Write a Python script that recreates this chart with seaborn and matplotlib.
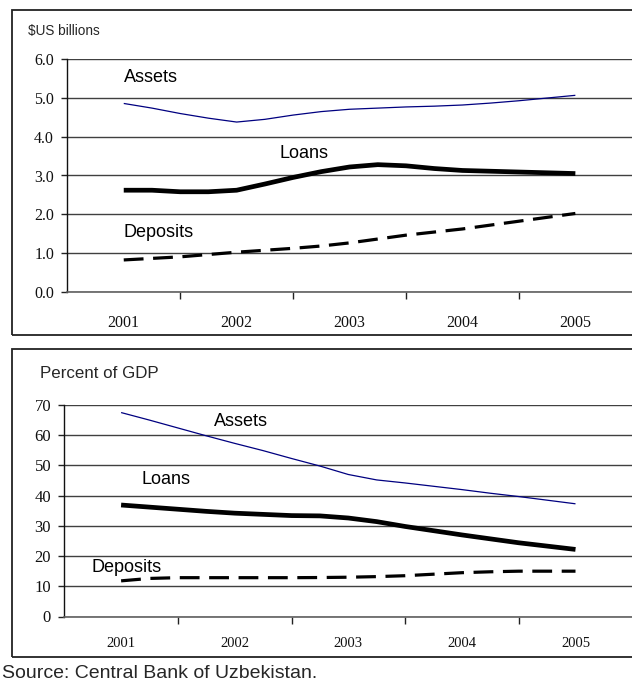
import numpy as np
import pandas as pd
import matplotlib
matplotlib.use("Agg")
import matplotlib.pyplot as plt
import matplotlib.patches as mpatches
from matplotlib.ticker import FixedLocator, FuncFormatter
import seaborn as sns

# ---------------- data (quarterly steps) ----------------
periods = [2001.0, 2001.25, 2001.5, 2001.75, 2002.0, 2002.25, 2002.5, 2002.75,
           2003.0, 2003.25, 2003.5, 2003.75, 2004.0, 2004.25, 2004.5, 2004.75, 2005.0]
year_labels = ["2001", "2002", "2003", "2004", "2005"]

usd_assets = [4.86, 4.74, 4.60, 4.48, 4.38, 4.45, 4.56, 4.65, 4.71, 4.74, 4.77, 4.79,
              4.82, 4.87, 4.93, 5.00, 5.07]
usd_loans = [2.62, 2.62, 2.58, 2.58, 2.62, 2.78, 2.95, 3.10, 3.22, 3.28, 3.25, 3.18,
             3.13, 3.11, 3.09, 3.07, 3.05]
usd_deposits = [0.82, 0.86, 0.90, 0.96, 1.02, 1.07, 1.12, 1.18, 1.26, 1.36, 1.46, 1.54,
                1.62, 1.72, 1.82, 1.92, 2.02]

gdp_assets = [67.5, 65.0, 62.4, 59.8, 57.3, 54.9, 52.3, 49.8, 47.0, 45.2, 44.2, 43.1,
              42.0, 40.8, 39.7, 38.5, 37.3]
gdp_loans = [36.9, 36.2, 35.5, 34.8, 34.2, 33.8, 33.4, 33.3, 32.6, 31.4, 29.8, 28.4,
             27.0, 25.7, 24.4, 23.3, 22.2]
gdp_deposits = [11.8, 12.6, 12.85, 12.85, 12.85, 12.85, 12.85, 12.9, 13.0, 13.2, 13.5, 14.0,
                14.5, 14.8, 15.0, 15.0, 15.0]

series_names = ["Assets", "Loans", "Deposits"]

# ---------------- figure ----------------
sns.set_style("white")
plt.rcParams["font.family"] = ["Liberation Sans", "DejaVu Sans"]

W, H = 632, 690
fig = plt.figure(figsize=(W / 100, H / 100), dpi=100)

def fx(px):
    return px / W

def fy(py):
    return 1 - py / H

# panel frames
for (x0, y0, x1, y1) in [(12, 9.5, 640, 334.5), (12, 349, 640, 657)]:
    fig.patches.append(mpatches.Rectangle((fx(x0), fy(y1)), fx(x1 - x0), (y1 - y0) / H,
                                          transform=fig.transFigure, fill=False,
                                          edgecolor="#222222", linewidth=1.3))

ax1 = fig.add_axes([fx(67.3), fy(291.7), fx(631.8 - 67.3), (291.7 - 59.3) / H])
ax2 = fig.add_axes([fx(64.3), fy(616.5), fx(632.3 - 64.3), (616.5 - 405) / H])

styles = {
    "Assets": dict(color="#000080", linewidth=0.9, linestyle="-"),
    "Loans": dict(color="black", linewidth=3.4, linestyle="-"),
    "Deposits": dict(color="black", linewidth=2.3, linestyle=(0, (6.2, 3.0))),
}

def draw(ax, vals, ymax, ystep, yfmt, ytick_size, xtick_size, xpad):
    df = pd.DataFrame({"period": periods * 3,
                       "value": vals[0] + vals[1] + vals[2],
                       "series": sum([[n] * len(periods) for n in series_names], [])})
    for name in series_names:
        sub = df[df["series"] == name]
        sns.lineplot(data=sub, x="period", y="value", ax=ax, legend=False,
                     solid_capstyle="butt", dash_capstyle="butt", **styles[name])
    ax.set_xlim(2000.5, 2005.5)
    ax.set_ylim(0, ymax)
    yt = np.arange(0, ymax + ystep / 2, ystep)
    ax.set_yticks(yt)
    ax.yaxis.set_major_formatter(FuncFormatter(lambda v, p: yfmt.format(v)))
    ax.yaxis.grid(True, color="#404040", linewidth=1.0)
    ax.xaxis.grid(False)
    ax.set_axisbelow(True)
    ax.set_xticks([2001, 2002, 2003, 2004, 2005])
    ax.set_xticklabels(year_labels)
    ax.xaxis.set_minor_locator(FixedLocator([2001.5, 2002.5, 2003.5, 2004.5]))
    ax.tick_params(axis="x", which="major", bottom=True, length=0, pad=xpad,
                   labelsize=xtick_size, labelcolor="#111111")
    ax.tick_params(axis="x", which="minor", bottom=True, length=5, width=1,
                   color="#222222", direction="out")
    ax.tick_params(axis="y", which="major", length=4.5, width=1, color="#222222",
                   direction="out", left=True, pad=5, labelsize=ytick_size, labelcolor="#111111")
    for lab in ax.get_xticklabels() + ax.get_yticklabels():
        lab.set_fontfamily(["Liberation Serif", "DejaVu Serif"])
    for s in ["top", "right"]:
        ax.spines[s].set_visible(False)
    ax.spines["left"].set_color("#111111")
    ax.spines["left"].set_linewidth(1.0)
    ax.spines["bottom"].set_color("#606060")
    ax.spines["bottom"].set_linewidth(1.2)
    ax.set_xlabel("")
    ax.set_ylabel("")
    ax.patch.set_alpha(0)

draw(ax1, [usd_assets, usd_loans, usd_deposits], 6.0, 1.0, "{:.1f}", 11.5, 11.5, 17)
draw(ax2, [gdp_assets, gdp_loans, gdp_deposits], 70, 10, "{:.0f}", 12, 10.5, 15)

# series labels
lab_kw = dict(fontsize=13, color="black", ha="left", va="center")
ax1.text(2001.0, 5.53, "Assets", **lab_kw)
ax1.text(2002.38, 3.58, "Loans", **lab_kw)
ax1.text(2001.0, 1.52, "Deposits", **lab_kw)
ax2.text(2001.82, 64.7, "Assets", **lab_kw)
ax2.text(2001.18, 45.2, "Loans", **lab_kw)
ax2.text(2000.74, 16.1, "Deposits", **lab_kw)

# unit labels
fig.text(fx(28), fy(31.5), "$US billions", fontsize=9.8, ha="left", va="center")
fig.text(fx(40), fy(373), "Percent of GDP", fontsize=12.2, ha="left", va="center")

# source
fig.text(fx(2), fy(673), "Source: Central Bank of Uzbekistan.", fontsize=14, ha="left", va="center")

fig.savefig("out.png", dpi=100)
